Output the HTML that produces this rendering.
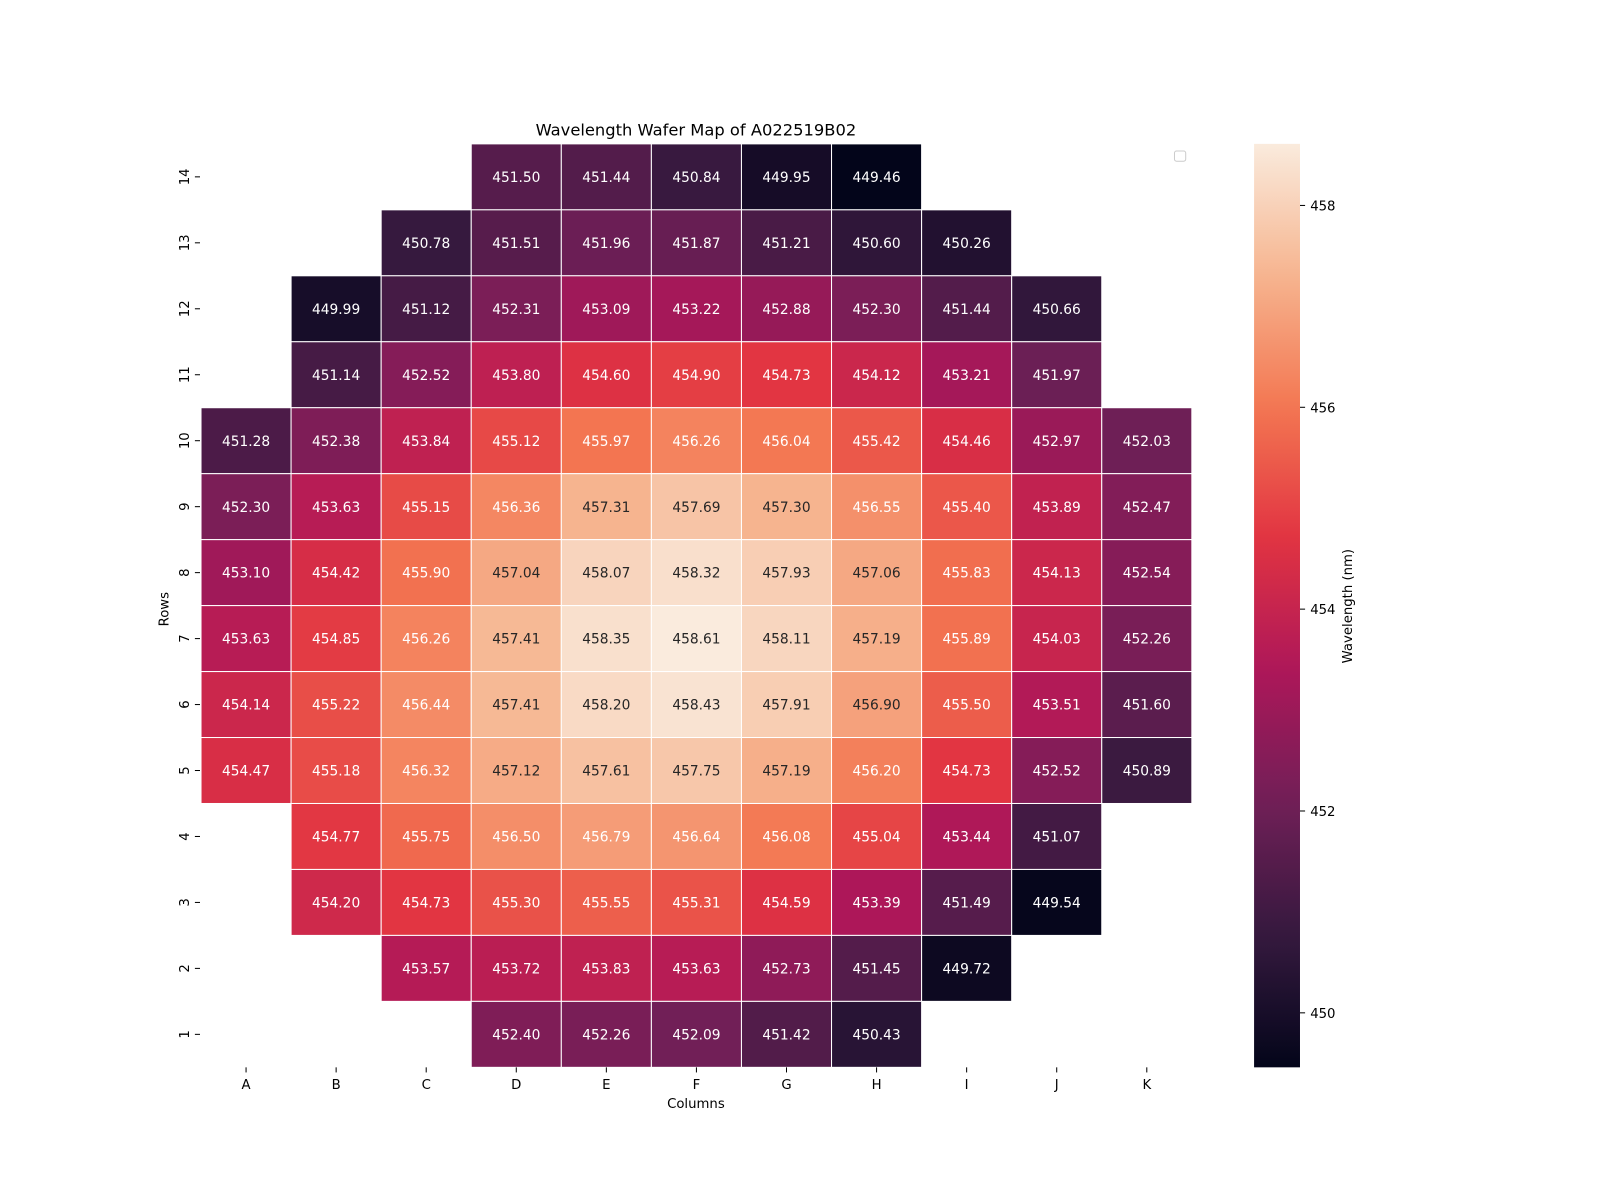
<!DOCTYPE html>
<html><head><meta charset="utf-8"><style>
html,body{margin:0;padding:0;background:#fff;}
svg{display:block;font-family:"DejaVu Sans","Liberation Sans",sans-serif;}
</style></head><body>
<svg id="chart" width="1600" height="1200" viewBox="0 0 1600 1200" xmlns="http://www.w3.org/2000/svg">
<rect width="1600" height="1200" fill="#fff"/>
<g transform="scale(1.0204)">
<text x="682" y="133" font-size="16" text-anchor="middle" fill="#000">Wavelength Wafer Map of A022519B02</text>
<text x="682" y="1086" font-size="13" text-anchor="middle" fill="#000">Columns</text>
<text transform="translate(165,597) rotate(-90)" font-size="13" text-anchor="middle" fill="#000">Rows</text>
<rect x="1151" y="148" width="11" height="10" rx="2" fill="#fff" stroke="#ccc"/>
<g id="cells"></g>
<g id="xticks"></g>
<g id="yticks"></g>
<defs><linearGradient id="cbgrad" x1="0" y1="1" x2="0" y2="0"></linearGradient></defs>
<rect x="1229" y="141" width="45" height="905" fill="url(#cbgrad)"/>
<g id="cbticks"></g>
<text transform="translate(1325,594) rotate(-90)" font-size="13" text-anchor="middle" fill="#000">Wavelength (nm)</text>
</g>
</svg>
<script>
const columns = ["A","B","C","D","E","F","G","H","I","J","K"];
const rowLabels = [14,13,12,11,10,9,8,7,6,5,4,3,2,1];
const values = [
[null,null,null,451.50,451.44,450.84,449.95,449.46,null,null,null],
[null,null,450.78,451.51,451.96,451.87,451.21,450.60,450.26,null,null],
[null,449.99,451.12,452.31,453.09,453.22,452.88,452.30,451.44,450.66,null],
[null,451.14,452.52,453.80,454.60,454.90,454.73,454.12,453.21,451.97,null],
[451.28,452.38,453.84,455.12,455.97,456.26,456.04,455.42,454.46,452.97,452.03],
[452.30,453.63,455.15,456.36,457.31,457.69,457.30,456.55,455.40,453.89,452.47],
[453.10,454.42,455.90,457.04,458.07,458.32,457.93,457.06,455.83,454.13,452.54],
[453.63,454.85,456.26,457.41,458.35,458.61,458.11,457.19,455.89,454.03,452.26],
[454.14,455.22,456.44,457.41,458.20,458.43,457.91,456.90,455.50,453.51,451.60],
[454.47,455.18,456.32,457.12,457.61,457.75,457.19,456.20,454.73,452.52,450.89],
[null,454.77,455.75,456.50,456.79,456.64,456.08,455.04,453.44,451.07,null],
[null,454.20,454.73,455.30,455.55,455.31,454.59,453.39,451.49,449.54,null],
[null,null,453.57,453.72,453.83,453.63,452.73,451.45,449.72,null,null],
[null,null,null,452.40,452.26,452.09,451.42,450.43,null,null,null]
];
const cbTicks = [450,452,454,456,458];

const NS="http://www.w3.org/2000/svg";
const X0=197,X1=1168,Y0=141,Y1=1046;
const cw=(X1-X0)/columns.length, ch=(Y1-Y0)/rowLabels.length;
const all=values.flat().filter(v=>v!==null);
const vmin=Math.min(...all), vmax=Math.max(...all);
const stops=[[0,"#03051a"],[1/7,"#35193e"],[2/7,"#701f57"],[3/7,"#ad1759"],[4/7,"#e13342"],[5/7,"#f37651"],[6/7,"#f6b48f"],[1,"#faebdd"]];
function hex(h){return [1,3,5].map(i=>parseInt(h.substr(i,2),16));}
function cmap(t){t=Math.max(0,Math.min(1,t));for(let i=1;i<stops.length;i++){if(t<=stops[i][0]){const a=stops[i-1],b=stops[i];const f=(t-a[0])/(b[0]-a[0]);const ca=hex(a[1]),cb=hex(b[1]);const c=ca.map((v,k)=>Math.round(v+(cb[k]-v)*f));return `rgb(${c.join(",")})`;}}return stops[stops.length-1][1];}
const xPos=i=>X0+i*cw, yPos=j=>Y0+j*ch;
const cbY=v=>Y1-(v-vmin)/(vmax-vmin)*(Y1-Y0);
function mk(tag,attrs,parent,text){const e=document.createElementNS(NS,tag);for(const k in attrs)e.setAttribute(k,attrs[k]);if(text!==undefined)e.textContent=text;parent.appendChild(e);return e;}
const cells=document.getElementById("cells");
values.forEach((row,j)=>row.forEach((v,i)=>{
  if(v===null)return;
  const t=(v-vmin)/(vmax-vmin);
  const r=mk("rect",{x:xPos(i),y:yPos(j),width:cw,height:ch,fill:cmap(t),stroke:"#fff","stroke-width":1},cells);
  
  
  const tx=mk("text",{x:xPos(i)+cw/2,y:yPos(j)+ch/2+5,"font-size":13.5,"text-anchor":"middle",fill:v>456.85?"#262626":"#fff"},cells,v.toFixed(2));
  
  
}));
const xt=document.getElementById("xticks");
columns.forEach((c,i)=>{
  const x=xPos(i)+cw/2;
  mk("line",{x1:x,x2:x,y1:Y1,y2:Y1+5,stroke:"#000","stroke-width":1},xt);
  const t=mk("text",{x:x,y:Y1+21,"font-size":13,"text-anchor":"middle",fill:"#000"},xt,c);
  
  
});
const yt=document.getElementById("yticks");
rowLabels.forEach((r,j)=>{
  const y=yPos(j)+ch/2;
  mk("line",{x1:X0-6,x2:X0-1,y1:y,y2:y,stroke:"#000","stroke-width":1},yt);
  const t=mk("text",{transform:`translate(${X0-12},${y}) rotate(-90)`,"font-size":13,"text-anchor":"middle",fill:"#000"},yt,String(r));
  
  
});
const g=document.getElementById("cbgrad");
for(let k=0;k<=40;k++){mk("stop",{offset:(k/40),"stop-color":cmap(k/40)},g);}
const cbt=document.getElementById("cbticks");
cbTicks.forEach(v=>{
  const y=cbY(v);
  mk("line",{x1:1274,x2:1279,y1:y,y2:y,stroke:"#000","stroke-width":1},cbt);
  const t=mk("text",{x:1284,y:y+5,"font-size":13,fill:"#000"},cbt,String(v));
  
  
});
</script>
</body></html>
